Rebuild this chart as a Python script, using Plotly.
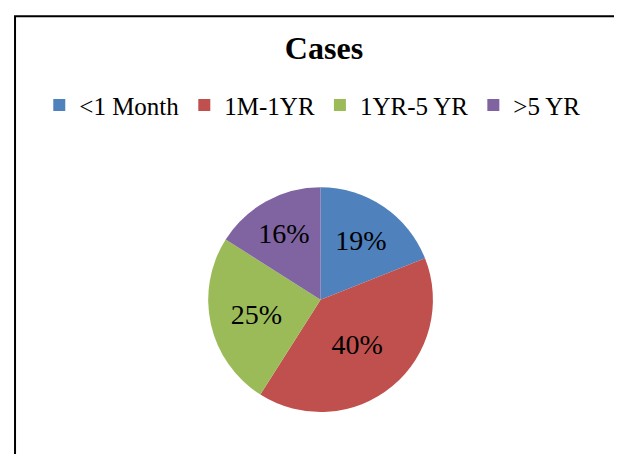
import plotly.graph_objects as go

categories = ["<1 Month", "1M-1YR", "1YR-5 YR", ">5 YR"]
values = [19, 40, 25, 16]
colors = ["#4F81BD", "#C0504D", "#9BBB59", "#8064A2"]
title_text = "Cases"

serif = "Liberation Serif, Times New Roman, serif"

fig = go.Figure(
    go.Pie(
        labels=categories,
        values=values,
        sort=False,
        direction="clockwise",
        rotation=0,
        marker=dict(colors=colors, line=dict(width=0)),
        textinfo="percent",
        texttemplate="%{percent:.0%}",
        textposition="inside",
        insidetextorientation="horizontal",
        textfont=dict(family=serif, size=28, color="black"),
        domain=dict(x=[0.015, 0.99], y=[0.11, 0.605]),
        hoverinfo="label+percent",
    )
)

fig.update_layout(
    width=622,
    height=454,
    margin=dict(l=0, r=0, t=0, b=0, autoexpand=False),
    paper_bgcolor="white",
    plot_bgcolor="white",
    title=dict(
        text="<b>" + title_text + "</b>",
        x=0.508,
        xanchor="center",
        y=0.912,
        yanchor="middle",
        yref="container",
        font=dict(family=serif, size=32, color="black"),
    ),
    legend=dict(
        orientation="h",
        x=0.49,
        xanchor="center",
        y=0.786,
        yanchor="middle",
        yref="paper",
        font=dict(family=serif, size=25, color="black"),
        itemwidth=30,
        traceorder="normal",
    ),
    shapes=[
        dict(
            type="rect",
            xref="paper",
            yref="paper",
            x0=0.0113,
            x1=1.05,
            y0=-0.05,
            y1=0.982,
            line=dict(color="black", width=2),
            fillcolor="rgba(0,0,0,0)",
            layer="below",
        )
    ],
)

fig.write_html("out.html")
